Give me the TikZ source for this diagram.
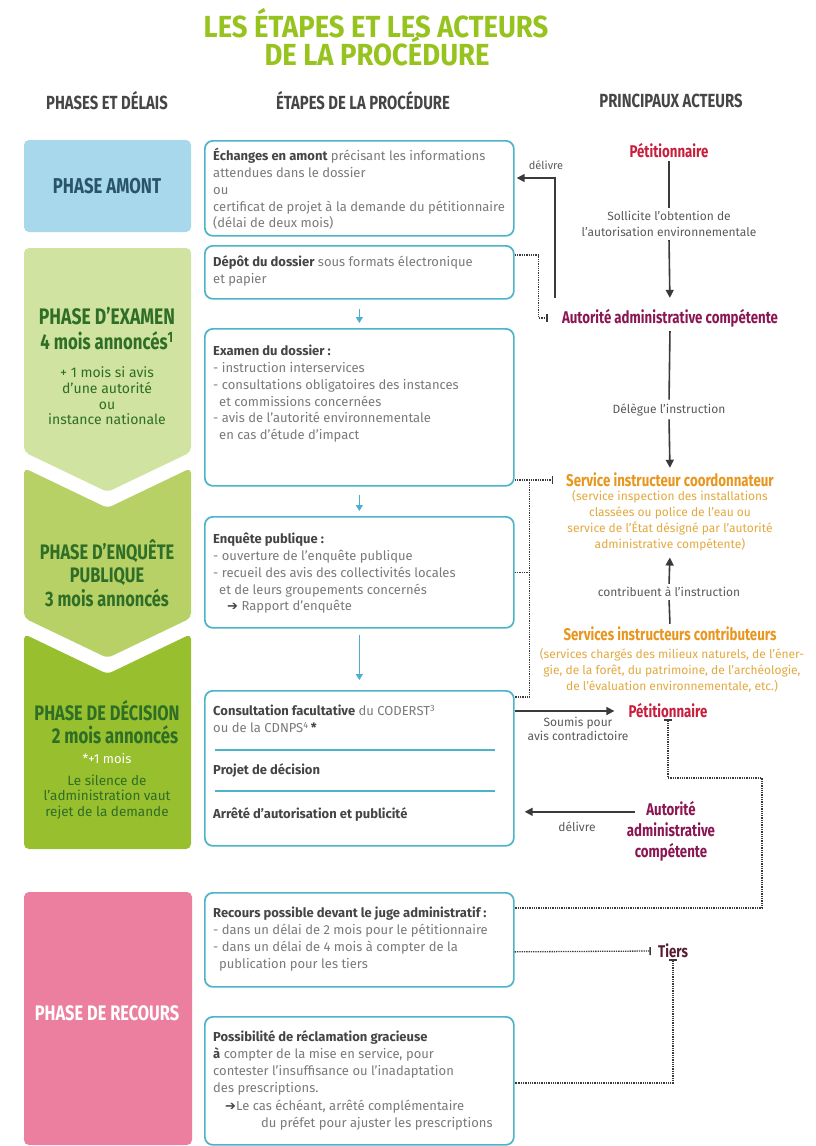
\documentclass[tikz,border=0pt]{standalone}
\usepackage{fontspec}
\setmainfont{Fira Sans}
\newfontfamily\cond[FakeStretch=0.78]{Fira Sans}
\newfontfamily\condt[FakeStretch=0.9]{Fira Sans}
\newfontfamily\dejavu{DejaVu Sans}
\usetikzlibrary{arrows.meta,calc}
\definecolor{titlegreen}{HTML}{96C31E}
\definecolor{headc}{HTML}{464646}
\definecolor{amontc}{HTML}{A7D8EC}
\definecolor{amonttxt}{HTML}{2A5468}
\definecolor{examc}{HTML}{D0E3A0}
\definecolor{enqc}{HTML}{B8D167}
\definecolor{decc}{HTML}{98BF2E}
\definecolor{recc}{HTML}{EC7FA0}
\definecolor{phgreen}{HTML}{2E6E26}
\definecolor{boxc}{HTML}{4CB4C9}
\definecolor{bodyc}{HTML}{7A7A7A}
\definecolor{boldc}{HTML}{454545}
\definecolor{petc}{HTML}{C81E3C}
\definecolor{autc}{HTML}{8A1752}
\definecolor{servc}{HTML}{E8961E}
\definecolor{servsub}{HTML}{E3A940}
\definecolor{tiersc}{HTML}{5A1E34}
\definecolor{linec}{HTML}{3A3A3A}
\definecolor{arrc}{HTML}{4AAFD0}
\definecolor{smallc}{HTML}{5A5A5A}
\newcommand{\bt}[1]{{\bfseries\color{boldc}#1}}
\newcommand{\fs}{\rule{0pt}{12.5pt}}
\newcommand{\harr}{{\dejavu\color{boldc}➔}}
\tikzset{
  box/.style={draw=boxc, line width=1.7pt, rounded corners=8pt, minimum width=309pt, anchor=north west, inner sep=0pt},
  btxt/.style={anchor=north west, align=left, inner sep=0pt, text=bodyc, font=\fontsize{13}{16.8}\selectfont},
  title/.style={font=\condt\bfseries\fontsize{30.5}{33}\selectfont, text=titlegreen, inner sep=1pt},
  head/.style={font=\cond\bfseries\fontsize{19}{21}\selectfont, text=headc, inner sep=1pt},
  phlab/.style={font=\cond\bfseries\fontsize{21.5}{24}\selectfont, align=center, inner sep=1pt},
  phsub/.style={font=\fontsize{14}{15.6}\selectfont, align=center, inner sep=1pt},
  act/.style={font=\cond\bfseries\fontsize{17}{21}\selectfont, align=center, inner sep=1pt},
  small/.style={font=\fontsize{12}{16.5}\selectfont, text=smallc, align=center, inner sep=1pt},
  sub/.style={font=\fontsize{12}{16}\selectfont, text=servsub, align=center, inner sep=1pt},
  ln/.style={draw=linec, line width=1.6pt},
  arr/.style={draw=linec, line width=1.6pt, -{Triangle[length=8pt,width=8pt]}},
  dots/.style={draw=linec, line width=1.3pt, densely dotted},
  bartip/.style={-{Bar[width=8pt,line width=1.5pt]}},
  tarr/.style={draw=arrc, line width=1.3pt, -{Triangle[length=6pt,width=7pt]}},
}
\begin{document}
\begin{tikzpicture}[x=1pt,y=-1pt]
\useasboundingbox (0,0) rectangle (816,1146);
\fill[white] (0,0) rectangle (816,1146);

% title
\node[title] (ti1) at (376,23) {LES ÉTAPES ET LES ACTEURS};
\node[title] (ti2) at (377,51) {DE LA PROCÉDURE};
\node[head] (h1) at (107,101) {PHASES ET DÉLAIS};
\node[head] (h2) at (363,101) {ÉTAPES DE LA PROCÉDURE};
\node[head] (h3) at (671,101) {PRINCIPAUX ACTEURS};

% phases
\fill[amontc, rounded corners=5pt] (24,140) rectangle (191,232);
\fill[examc, rounded corners=5pt] (24,248) -- (191,248) -- (191,452) -- (107.5,492) -- (24,452) -- cycle;
\fill[enqc, rounded corners=5pt] (24,468) -- (107.5,508) -- (191,468) -- (191,618) -- (107.5,658) -- (24,618) -- cycle;
\fill[decc, rounded corners=5pt] (24,634) -- (107.5,674) -- (191,634) -- (191,849) -- (24,849) -- cycle;
\fill[recc, rounded corners=5pt] (24,892) rectangle (192,1145);

\node[phlab, text=amonttxt] (pa) at (107,186) {PHASE AMONT};
\node[phlab, text=phgreen, font=\cond\bfseries\fontsize{22.5}{24}\selectfont] (pe1) at (107,316) {PHASE D’EXAMEN};
\node[phlab, text=phgreen] (pe2) at (107,341) {4 mois annoncés\textsuperscript{1}};
\node[phsub, text=phgreen] (pe3) at (107,396) {+ 1 mois si avis\\d’une autorité\\ou\\instance nationale};
\node[phlab, text=phgreen, font=\cond\bfseries\fontsize{21}{23.5}\selectfont] (pq) at (107,573) {PHASE D’ENQUÊTE\\PUBLIQUE\\3 mois annoncés};
\node[phlab, text=phgreen, font=\cond\bfseries\fontsize{21}{24}\selectfont] (pd1) at (107,711) {PHASE DE DÉCISION};
\node[phlab, text=phgreen] (pd2) at (115,735) {2 mois annoncés};
\node[phsub, text=white, font=\fontsize{13}{15}\selectfont] (pd3) at (107,758) {*+1 mois};
\node[phsub, text=phgreen, font=\fontsize{13.5}{15.8}\selectfont] (pd4) at (107,797) {Le silence de\\l’administration vaut\\rejet de la demande};
\node[phlab, text=white, font=\cond\bfseries\fontsize{21}{24}\selectfont] (pr) at (107,1013) {PHASE DE RECOURS};

% boxes
\node[box, minimum height=95pt] (b1) at (204,140) {};
\node[box, minimum height=53pt] (b2) at (204,245) {};
\node[box, minimum height=157pt] (b3) at (204,328) {};
\node[box, minimum height=111pt] (b4) at (204,516) {};
\node[box, minimum height=155pt] (b5) at (204,690) {};
\node[box, minimum height=94pt] (b6) at (204,892) {};
\node[box, minimum height=128pt] (b7) at (204,1016) {};

\node[btxt] (x1) at (213,148) {\fs\bt{Échanges en amont} précisant les informations\\attendues dans le dossier\\ou\\certificat de projet à la demande du pétitionnaire\\(délai de deux mois)};
\node[btxt] (x2) at (213,254) {\fs\bt{Dépôt du dossier} sous formats électronique\\et papier};
\node[btxt] (x3) at (213,343) {\fs\bt{Examen du dossier :}\\- instruction interservices\\- consultations obligatoires des instances\\\hspace*{6pt}et commissions concernées\\- avis de l’autorité environnementale\\\hspace*{6pt}en cas d’étude d’impact};
\node[btxt] (x4) at (213,531) {\fs\bt{Enquête publique :}\\- ouverture de l’enquête publique\\- recueil des avis des collectivités locales\\\hspace*{6pt}et de leurs groupements concernés\\\hspace*{14pt}\harr\ Rapport d’enquête};
\node[btxt] (x5a) at (213,703) {\fs\bt{Consultation facultative} du CODERST\textsuperscript{3}\\ou de la CDNPS\textsuperscript{4}\,\bt{*}};
\node[btxt] (x5b) at (213,762) {\fs\bt{Projet de décision}};
\node[btxt] (x5c) at (213,806) {\fs\bt{Arrêté d’autorisation et publicité}};
\node[btxt] (x6) at (213,905) {\fs\bt{Recours possible devant le juge administratif :}\\- dans un délai de 2 mois pour le pétitionnaire\\- dans un délai de 4 mois à compter de la\\\hspace*{6pt}publication pour les tiers};
\node[btxt] (x7) at (213,1029) {\fs\bt{Possibilité de réclamation gracieuse}\\\bt{à} compter de la mise en service, pour\\contester l’insuffisance ou l’inadaptation\\des prescriptions.\\[2pt]\hspace*{12pt}\harr Le cas échéant, arrêté complémentaire\\\hspace*{48pt}du préfet pour ajuster les prescriptions};

\draw[boxc, line width=1.3pt] ($(b5.north west)+(11,60)$) -- ($(b5.north east)+(-20,60)$);
\draw[boxc, line width=1.3pt] ($(b5.north west)+(11,101)$) -- ($(b5.north east)+(-20,101)$);

% teal arrows between boxes
\draw[tarr, shorten <=9pt, shorten >=5pt] (b2.south) -- (b3.north);
\draw[tarr, shorten <=8pt, shorten >=5pt] (b3.south) -- (b4.north);
\draw[tarr, shorten <=6pt, shorten >=10pt] (b4.south) -- (b5.north);

% actors
\node[act, text=petc] (p1) at (669,151) {Pétitionnaire};
\node[small] (sol) at (669,224) {Sollicite l’obtention de\\l’autorisation environnementale};
\node[act, text=autc] (a1) at (670,318) {Autorité administrative compétente};
\node[small] (dele) at (669,410) {Délègue l’instruction};
\node[act, text=servc] (s1) at (670,480) {Service instructeur coordonnateur};
\node[sub] (s1s) at (670,521) {(service inspection des installations\\classées ou police de l’eau ou\\service de l’État désigné par l’autorité\\administrative compétente)};
\node[small] (contr) at (669,592) {contribuent à l’instruction};
\node[act, text=servc] (s2) at (670,634) {Services instructeurs contributeurs};
\node[sub] (s2s) at (672,670) {(services chargés des milieux naturels, de l’éner-\\gie, de la forêt, du patrimoine, de l’archéologie,\\de l’évaluation environnementale, etc.)};
\node[act, text=petc] (p2) at (668,711) {Pétitionnaire};
\node[small, font=\fontsize{12}{14.5}\selectfont] (soum) at (578,729) {Soumis pour\\avis contradictoire};
\node[act, text=autc] (a2) at (671,831) {Autorité\\administrative\\compétente};
\node[small] (dl2) at (577,827) {délivre};
\node[small, font=\fontsize{11}{14}\selectfont] (dl1) at (546,165) {délivre};
\node[act, text=tiersc] (tr) at (673,951) {Tiers};

% connectors
\draw[ln, shorten <=2pt, shorten >=2pt] (p1.south) -- (sol.north);
\draw[arr, shorten <=2pt, shorten >=10pt] (sol.south) -- (a1.north);
\draw[ln, shorten <=3pt, shorten >=3pt] (a1.south) -- (dele.north);
\draw[arr, shorten <=2pt, shorten >=4pt] (dele.south) -- (s1.north);
\draw[ln, shorten <=2pt, shorten >=2pt] (s2.north) -- (contr.south);
\draw[arr, shorten <=2pt, shorten >=5pt] (contr.north) -- (s1s.south);

\coordinate (dv) at ($(a1.north west)+(-6,-10)$);
\draw[arr, shorten >=2pt] (dv) |- ($(b1.north east)+(0,38)$);

\draw[dots, bartip] ($(b2.north east)+(0,10)$) -- ++(24,0) |- ($(a1.west)+(-13,0)$);

\draw[dots, bartip] (b3.east |- s1.west) -- ($(s1.west)+(-12,0)$);
\coordinate (vt) at ($(b3.east |- s1.west)+(15,0)$);
\draw[dots] (vt) |- ($(b5.north east)+(0,7)$);
\draw[dots] (b4.east) -- (b4.east -| vt);

\draw[arr, shorten >=13pt] (b5.east |- p2.west) -- (p2.west);
\coordinate (a2s) at ($(a2.north)+(-36,12)$);
\draw[arr, shorten >=10pt] (a2s) -- (a2s -| b5.east);

\coordinate (k1) at (762,778);
\draw[dots, {Bar[width=8pt,line width=1.5pt]}-] (p2.south) |- (k1) |- ($(b6.north east)+(0,16)$);

\draw[dots, bartip] ($(b6.east)+(0,12)$) -- ($(tr.west)+(-6,0)$);
\draw[dots, {Bar[width=8pt,line width=1.5pt]}-] (tr.south) |- ($(b7.north east)+(0,67)$);
\end{tikzpicture}
\end{document}
